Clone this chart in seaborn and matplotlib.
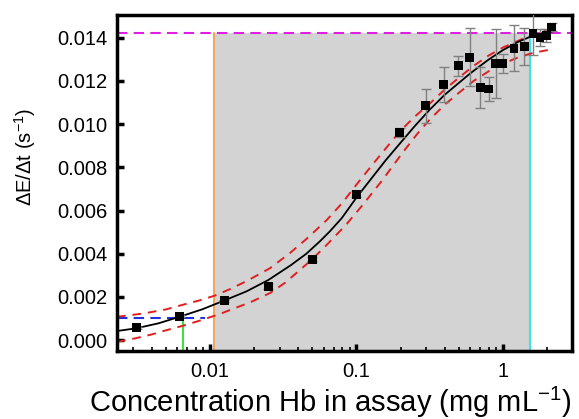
import numpy as np
import pandas as pd
import matplotlib
matplotlib.use("Agg")
import matplotlib.pyplot as plt
import seaborn as sns
from matplotlib.ticker import LogLocator, NullFormatter, FixedLocator

# measured points (Hb conc in mg/mL, rate in 1/s) with error bars
conc = [0.00316, 0.0062, 0.0125, 0.025, 0.05, 0.1, 0.197, 0.296, 0.394, 0.494,
        0.593, 0.70, 0.798, 0.89, 1.0, 1.19, 1.40, 1.60, 1.79, 1.97, 2.15]
rate = [0.00057, 0.00111, 0.00182, 0.0025, 0.00374, 0.00676, 0.0096, 0.01085, 0.01184, 0.0127,
        0.01309, 0.01171, 0.01163, 0.01281, 0.01281, 0.01352, 0.01361, 0.0142, 0.01401, 0.01412, 0.0145]
rate_err = [0.00005, 0.00005, 0.00005, 0.00015, 0.0001, 0.00015, 0.0002, 0.0008, 0.0008, 0.00045,
            0.00134, 0.00094, 0.00054, 0.0016, 0.00046, 0.00108, 0.00085, 0.001, 0.0004, 0.0003, 0.0002]

# fitted curve
fit_x = [0.00232, 0.00316, 0.00447, 0.0064, 0.0089, 0.0127, 0.0178, 0.025, 0.0355, 0.0455,
         0.0562, 0.0659, 0.0794, 0.1, 0.126, 0.158, 0.2, 0.25, 0.316, 0.4,
         0.5, 0.6, 0.794, 1.0, 1.26, 1.5, 1.78, 2.2]
fit_y = [0.00042, 0.00055, 0.00078, 0.00111, 0.00143, 0.00185, 0.00226, 0.00278, 0.00346, 0.0040,
         0.00457, 0.00504, 0.00565, 0.0066, 0.00747, 0.00832, 0.00914, 0.00991, 0.01067, 0.01136,
         0.01191, 0.01236, 0.01298, 0.01343, 0.0138, 0.01402, 0.01418, 0.0143]

# confidence bands
up_x = [0.00232, 0.0035, 0.005, 0.0064, 0.0085, 0.0108, 0.0137, 0.018, 0.0257, 0.035,
        0.0455, 0.0625, 0.08, 0.1, 0.126, 0.1595, 0.2, 0.25, 0.316, 0.4,
        0.5, 0.63, 0.8, 1.0, 1.26, 1.6, 2.2]
up_y = [0.00108, 0.00123, 0.00142, 0.00162, 0.00184, 0.00206, 0.00236, 0.00275, 0.00333, 0.00402,
        0.00468, 0.00555, 0.00635, 0.0072, 0.00805, 0.0089, 0.0097, 0.01035, 0.01095, 0.0116,
        0.01215, 0.0127, 0.01318, 0.01355, 0.01385, 0.01415, 0.01445]
lo_x = [0.00232, 0.00308, 0.004, 0.00493, 0.0065, 0.0088, 0.012, 0.0144, 0.019, 0.0257,
        0.0325, 0.0407, 0.05, 0.0625, 0.0851, 0.11, 0.15, 0.2075, 0.26, 0.315,
        0.4, 0.5, 0.63, 0.8, 1.0, 1.26, 1.6, 2.1]
lo_y = [-0.00008, 0.00008, 0.00026, 0.00044, 0.00066, 0.00093, 0.00124, 0.00145, 0.00176, 0.00218,
        0.00265, 0.00322, 0.00375, 0.0044, 0.00535, 0.00625, 0.0074, 0.0087, 0.00955, 0.0102,
        0.0109, 0.01145, 0.012, 0.01245, 0.0128, 0.01308, 0.0133, 0.01345]

# reference lines
lod_x, lod_y = 0.0065, 0.00111      # green / blue
blue_y = 0.00103
blue_end = 0.0093
lin_lo, lin_hi = 0.0107, 1.53       # orange / cyan
sat_y = 0.01421                     # magenta

sns.set_style("ticks", {"axes.edgecolor": "black", "xtick.color": "black",
                        "ytick.color": "black", "text.color": "black",
                        "axes.labelcolor": "black"})
plt.rcParams['font.family'] = ['Liberation Sans', 'DejaVu Sans']
plt.rcParams['mathtext.default'] = 'regular'

fig = plt.figure(figsize=(5.79, 4.19), dpi=100)
ax = fig.add_axes([0.202, 0.162, 0.786, 0.802])
ax.set_xscale('log')
ax.set_xlim(0.00232, 2.96)
ax.set_ylim(-0.00051, 0.01505)

# shaded linear range
ax.fill_between([lin_lo, lin_hi], -0.00051, sat_y, color='#d3d3d3', zorder=0, linewidth=0)
ax.plot([lin_lo, lin_lo], [-0.00051, sat_y], color='#f0a860', lw=1.5, zorder=1)
ax.plot([lin_hi, lin_hi], [-0.00051, sat_y], color='#40e0e8', lw=1.5, zorder=1)
ax.axhline(sat_y, color='#e020e0', lw=1.5, ls=(0, (5, 3)), zorder=1)
ax.plot([0.00232, blue_end], [blue_y, blue_y], color='#2030e0', lw=1.5,
        ls=(0, (5, 3)), zorder=1)
ax.plot([lod_x, lod_x], [-0.00051, lod_y], color='#40e040', lw=1.5, zorder=1)

# bands and fit
sns.lineplot(x=up_x, y=up_y, ax=ax, color='#e02020', lw=1.4, linestyle=(0, (4.5, 3.5)),
             sort=False, estimator=None, zorder=2)
sns.lineplot(x=lo_x, y=lo_y, ax=ax, color='#e02020', lw=1.4, linestyle=(0, (4.5, 3.5)),
             sort=False, estimator=None, zorder=2)
sns.lineplot(x=fit_x, y=fit_y, ax=ax, color='black', lw=1.3, sort=False, estimator=None, zorder=3)

# data
ax.errorbar(conc, rate, yerr=rate_err, fmt='none', ecolor='#808080', elinewidth=1,
            capsize=3.5, capthick=1, zorder=4)
df = pd.DataFrame({'conc': conc, 'rate': rate})
sns.scatterplot(data=df, x='conc', y='rate', ax=ax, marker='s', s=40, color='black',
                edgecolor='none', zorder=5)

# axes styling
for sp in ax.spines.values():
    sp.set_linewidth(2.5)
    sp.set_color('black')
    sp.set_visible(True)
ax.yaxis.set_major_locator(FixedLocator([0, 0.002, 0.004, 0.006, 0.008, 0.010, 0.012, 0.014]))
ax.set_yticklabels(['0.000', '0.002', '0.004', '0.006', '0.008', '0.010', '0.012', '0.014'])
ax.xaxis.set_major_locator(FixedLocator([0.01, 0.1, 1]))
ax.set_xticklabels(['0.01', '0.1', '1'])
ax.xaxis.set_minor_locator(LogLocator(base=10, subs=np.arange(2, 10)))
ax.xaxis.set_minor_formatter(NullFormatter())
ax.tick_params(axis='both', which='major', direction='in', length=5, width=2.5,
               labelsize=14.5, top=False, right=False, colors='black', pad=7)
ax.tick_params(axis='x', which='major', pad=8)
ax.tick_params(axis='x', which='minor', direction='in', length=3, width=1.2, top=False,
               colors='black')

ax.set_xlabel('Concentration Hb in assay (mg mL$^{-1}$)', fontsize=21)
ax.xaxis.set_label_coords(0.47, -0.1)
ax.set_ylabel('ΔE/Δt (s$^{-1}$)', fontsize=14.5)
ax.yaxis.set_label_coords(-0.174, 0.577)

fig.savefig('out.png', dpi=100)
